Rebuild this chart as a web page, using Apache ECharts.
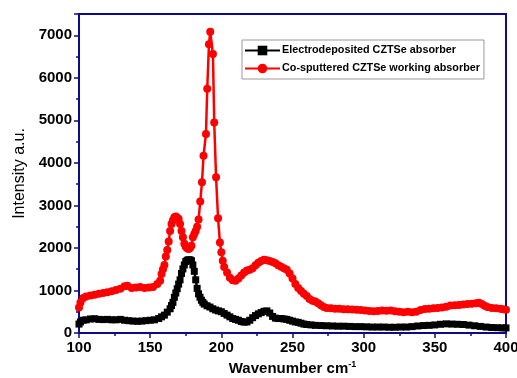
<!DOCTYPE html>
<html>
<head>
<meta charset="utf-8">
<script src="https://cdn.jsdelivr.net/npm/echarts@6/dist/echarts.min.js"></script>
<style>
  html, body { margin: 0; padding: 0; background: #fff; }
  #chart { width: 517px; height: 378px; }
</style>
</head>
<body>
<div id="chart"></div>
<script>
// Raman spectra (wavenumber cm-1, intensity a.u.)
const seriesNames = ['Electrodeposited CZTSe absorber', 'Co-sputtered CZTSe working absorber'];

const blackX = [100, 101, 103, 105, 108, 111, 114, 117, 120, 123, 126, 129, 132, 135, 138, 141, 144, 147, 150, 153,
  156, 158, 160, 162, 164, 165, 166, 167, 168, 169, 170, 171, 172, 173, 174, 175, 176, 177, 178, 179,
  180, 181, 182, 183, 184, 185, 186, 187, 188, 190, 192, 194, 196, 198, 200, 202, 204, 206, 208, 210,
  212, 214, 216, 218, 220, 222, 224, 226, 228, 230, 232, 234, 236, 238, 240, 242, 244, 246, 248, 250,
  252, 254, 256, 258, 260, 263, 266, 270, 274, 278, 282, 286, 290, 294, 298, 302, 306, 310, 314, 318,
  322, 326, 330, 334, 338, 342, 346, 350, 354, 358, 362, 366, 370, 374, 378, 382, 386, 390, 394, 398, 400];
const blackY = [210, 260, 300, 310, 330, 335, 320, 315, 320, 310, 310, 320, 300, 290, 280, 275, 280, 290, 300, 310,
  340, 380, 420, 490, 570, 645, 720, 840, 940, 1040, 1150, 1250, 1400, 1506, 1600, 1680, 1710, 1720, 1720, 1700,
  1600, 1450, 1250, 1050, 920, 840, 770, 720, 680, 640, 610, 570, 540, 520, 500, 460, 420, 380, 340, 320,
  300, 270, 255, 260, 300, 360, 410, 450, 480, 510, 520, 470, 390, 350, 340, 340, 330, 320, 300, 280,
  260, 250, 230, 210, 200, 190, 180, 175, 170, 165, 160, 160, 155, 150, 150, 145, 140, 140, 140, 135,
  135, 140, 140, 150, 165, 175, 180, 190, 205, 215, 210, 205, 200, 185, 170, 155, 140, 130, 125, 120, 120];

const redX = [100, 101, 103, 105, 108, 111, 114, 117, 120, 123, 126, 129, 132, 134, 137, 140, 143, 146, 149, 152,
  155, 157, 158, 159, 160, 161, 162, 163, 164, 165, 166, 167, 168, 169, 170, 171, 172, 173, 174, 175,
  176, 177, 178, 179, 180, 181, 182, 183, 184, 185.2, 186.4, 187.5, 189.2, 190.1, 191.3, 192.2, 194.1, 195, 196.3, 197.7,
  199, 200, 201, 202, 204, 206, 208, 210, 212, 214, 216, 218, 220, 222, 224, 226, 228, 230, 232, 234,
  236, 238, 240, 242, 244, 246, 248, 250, 252, 254, 256, 258, 260, 262, 264, 266, 268, 270, 272, 274,
  277, 280, 283, 286, 289, 292, 295, 298, 301, 304, 307, 310, 313, 316, 319, 322, 325, 328, 331, 334,
  337, 340, 343, 346, 349, 352, 355, 358, 361, 364, 367, 370, 373, 376, 379, 381, 383, 385, 387, 390,
  393, 396, 398, 400];
const redY = [600, 720, 820, 860, 880, 900, 920, 940, 960, 980, 1010, 1040, 1100, 1110, 1060, 1070, 1080, 1060, 1070, 1080,
  1150, 1230, 1390, 1500, 1600, 1800, 1950, 2150, 2400, 2560, 2650, 2720, 2740, 2710, 2680, 2560, 2400, 2250, 2100, 2030,
  1990, 1975, 2000, 2050, 2250, 2330, 2400, 2500, 2670, 3090, 3545, 4170, 4680, 5740, 6790, 7080, 6560, 4950, 3660, 2700,
  2130, 1900, 1700, 1550, 1420, 1300, 1240, 1230, 1280, 1350, 1420, 1470, 1490, 1520, 1590, 1650, 1690, 1720, 1710, 1690,
  1670, 1640, 1590, 1560, 1520, 1490, 1400, 1280, 1150, 1060, 990, 920, 870, 800, 760, 740, 700, 650, 610, 590,
  580, 570, 570, 560, 560, 550, 545, 540, 530, 520, 510, 520, 530, 525, 530, 510, 500, 490, 500, 490,
  500, 540, 565, 570, 580, 590, 600, 620, 645, 650, 660, 670, 680, 690, 700, 710, 680, 640, 610, 590,
  580, 570, 560, 545];

const xTicks = { min: 100, max: 400, interval: 50 };
const yTicks = { min: 0, max: 7500, interval: 1000 };

const navy = '#0b0b8c';
const font = 'Liberation Sans, Arial';
const chart = echarts.init(document.getElementById('chart'));

const pair = (xs, ys) => xs.map((x, i) => [x, ys[i]]);

const axisCommon = {
  axisLine: { show: true, onZero: false, lineStyle: { color: navy, width: 2 } },
  axisTick: { show: true, inside: false, length: 5, lineStyle: { color: navy, width: 1.5 } },
  minorTick: { show: true, splitNumber: 2, length: 3, lineStyle: { color: navy, width: 1.5 } },
  splitLine: { show: false },
  axisLabel: { color: '#000', fontFamily: font, fontWeight: 'bold', fontSize: 15, formatter: (v) => String(v) }
};

chart.setOption({
  animation: false,
  backgroundColor: '#fff',
  grid: {
    left: 79, right: 11, top: 14, bottom: 45,
    outerBoundsMode: 'none', containLabel: false,
    show: true, borderColor: navy, borderWidth: 2
  },
  legend: {
    orient: 'vertical',
    left: 242, top: 40,
    padding: [5, 4, 5, 2],
    itemGap: 7,
    itemWidth: 35, itemHeight: 12,
    borderColor: '#999', borderWidth: 1,
    textStyle: { fontFamily: font, fontWeight: 'bold', fontSize: 10.8, color: '#000', padding: [0, 0, 0, -3] },
    data: seriesNames
  },
  xAxis: Object.assign({}, axisCommon, {
    type: 'value',
    min: xTicks.min, max: xTicks.max, interval: xTicks.interval,
    axisLabel: Object.assign({}, axisCommon.axisLabel, { margin: 7 }),
    name: '{a|Wavenumber cm}{s|-1}',
    nameLocation: 'middle',
    nameGap: 25,
    nameTextStyle: {
      rich: {
        a: { fontFamily: font, fontWeight: 'bold', fontSize: 15, color: '#000' },
        s: { fontFamily: font, fontWeight: 'bold', fontSize: 9, color: '#000', verticalAlign: 'top', padding: [0, 0, 8, 0] }
      }
    }
  }),
  yAxis: Object.assign({}, axisCommon, {
    type: 'value',
    min: yTicks.min, max: yTicks.max, interval: yTicks.interval,
    axisLabel: Object.assign({}, axisCommon.axisLabel, { margin: 7, showMaxLabel: false }),
    name: 'Intensity a.u.',
    nameLocation: 'middle',
    nameGap: 51,
    nameTextStyle: { fontFamily: font, fontSize: 16, color: '#000' }
  }),
  series: [
    {
      name: seriesNames[0],
      type: 'line',
      data: pair(blackX, blackY),
      symbol: 'rect', symbolSize: 7, showAllSymbol: true,
      lineStyle: { color: '#000', width: 2.5 },
      itemStyle: { color: '#000' },
      z: 3
    },
    {
      name: seriesNames[1],
      type: 'line',
      data: pair(redX, redY),
      symbol: 'circle', symbolSize: 8, showAllSymbol: true,
      lineStyle: { color: '#ff0000', width: 2.5 },
      itemStyle: { color: '#ff0000' },
      z: 2
    }
  ]
});
</script>
</body>
</html>
